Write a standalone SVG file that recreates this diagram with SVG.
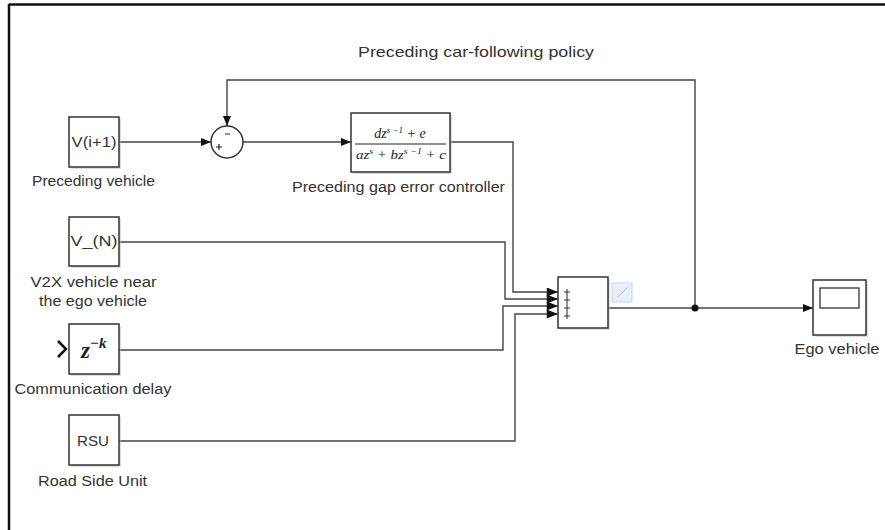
<svg xmlns="http://www.w3.org/2000/svg" width="885" height="530" viewBox="0 0 885 530">
<style>
.blk{fill:#fff;stroke:#333;stroke-width:1.5}
.shd{fill:#bbb;opacity:0.5}
.ln{fill:none;stroke:#444;stroke-width:1.4}
.lbl{font-family:"Liberation Sans",Arial,sans-serif;font-size:14px;fill:#333;text-anchor:middle}
.in{font-family:"Liberation Sans",Arial,sans-serif;font-size:14px;fill:#333;text-anchor:middle}
.mth{font-family:"Liberation Serif","Times New Roman",serif;font-style:italic;fill:#222}
</style>
<defs>
<marker id="ar" viewBox="0 0 10 8" refX="10" refY="4" markerWidth="10" markerHeight="8" markerUnits="userSpaceOnUse" orient="auto">
<path d="M0,0 L10,4 L0,8 Z" fill="#111"/>
</marker>
<marker id="arb" viewBox="0 0 10 8" refX="10" refY="4" markerWidth="12" markerHeight="9" markerUnits="userSpaceOnUse" orient="auto">
<path d="M0,0 L10,4 L0,8 Z" fill="#111"/>
</marker>
</defs>
<rect width="885" height="530" fill="#fff"/>
<g id="frame">
<line x1="9" y1="4.5" x2="885" y2="4.5" stroke="#111" stroke-width="2.5"/>
<line x1="9" y1="4" x2="9" y2="530" stroke="#111" stroke-width="2.5"/>
</g>
<g id="connectors">
<line class="ln" x1="119" y1="142" x2="211" y2="142" marker-end="url(#ar)"/>
<polyline class="ln" points="695,308 695,80 227,80 227,126" marker-end="url(#ar)"/>
<line class="ln" x1="243" y1="142" x2="351" y2="142" marker-end="url(#ar)"/>
<polyline class="ln" points="450,142 513,142 513,292 558,292" marker-end="url(#arb)"/>
<polyline class="ln" points="119,242 505,242 505,299 558,299" marker-end="url(#arb)"/>
<polyline class="ln" points="119,350 503,350 503,306 558,306" marker-end="url(#arb)"/>
<polyline class="ln" points="119,441 515,441 515,314 558,314" marker-end="url(#arb)"/>
<line class="ln" x1="608" y1="308" x2="813" y2="308" marker-end="url(#ar)"/>
<circle cx="695" cy="308" r="3.5" fill="#111"/>
<text class="lbl" x="476" y="57" textLength="236" lengthAdjust="spacingAndGlyphs">Preceding car-following policy</text>
</g>
<g id="v_i1">
<rect class="shd" x="71" y="119" width="50" height="50"/>
<rect class="blk" x="69" y="117" width="50" height="50"/>
<text class="in" x="94" y="147" textLength="45" lengthAdjust="spacingAndGlyphs">V(i+1)</text>
<text class="lbl" x="93.5" y="186" textLength="123" lengthAdjust="spacingAndGlyphs">Preceding vehicle</text>
</g>
<g id="sum">
<circle cx="227" cy="142" r="16" fill="#fff" stroke="#333" stroke-width="1.5"/>
<path d="M216,147 h6 M219,144 v6 M225,134 h5" stroke="#222" stroke-width="1.2"/>
</g>
<g id="tf">
<rect class="shd" x="353" y="115" width="99" height="59"/>
<rect class="blk" x="351" y="113" width="99" height="59"/>
<line x1="355" y1="144" x2="446" y2="144" stroke="#222" stroke-width="1"/>
<text class="mth" x="400" y="138" font-size="14" text-anchor="middle">dz<tspan font-size="9" dy="-5">s −1</tspan><tspan dy="5"> + e</tspan></text>
<text class="mth" x="401" y="159" font-size="13.5" text-anchor="middle" textLength="90" lengthAdjust="spacingAndGlyphs">az<tspan font-size="9" dy="-5">s</tspan><tspan dy="5"> + bz</tspan><tspan font-size="9" dy="-5">s −1</tspan><tspan dy="5"> + c</tspan></text>
<text class="lbl" x="398.5" y="192" textLength="213" lengthAdjust="spacingAndGlyphs">Preceding gap error controller</text>
</g>
<g id="v_n">
<rect class="shd" x="71" y="219" width="50" height="49"/>
<rect class="blk" x="69" y="217" width="50" height="49"/>
<text class="in" x="94" y="246" textLength="47" lengthAdjust="spacingAndGlyphs">V_(N)</text>
<text class="lbl" x="93.5" y="287" textLength="126" lengthAdjust="spacingAndGlyphs">V2X vehicle near</text>
<text class="lbl" x="93" y="306" textLength="108" lengthAdjust="spacingAndGlyphs">the ego vehicle</text>
</g>
<g id="delay">
<rect class="shd" x="71" y="326" width="50" height="50"/>
<rect class="blk" x="69" y="324" width="50" height="50"/>
<polyline points="58,341 66,349 58,357" fill="none" stroke="#111" stroke-width="2.5"/>
<text class="mth" x="81" y="358" font-size="23" font-weight="bold">z<tspan font-size="15" dy="-10">−k</tspan></text>
<text class="lbl" x="93" y="394" textLength="157" lengthAdjust="spacingAndGlyphs">Communication delay</text>
</g>
<g id="rsu">
<rect class="shd" x="71" y="417" width="50" height="50"/>
<rect class="blk" x="69" y="415" width="50" height="50"/>
<text class="in" x="93" y="446" font-size="15" textLength="32" lengthAdjust="spacingAndGlyphs">RSU</text>
<text class="lbl" x="92.5" y="486" textLength="109" lengthAdjust="spacingAndGlyphs">Road Side Unit</text>
</g>
<g id="mux">
<rect class="shd" x="560" y="279" width="50" height="51"/>
<rect class="blk" x="558" y="277" width="50" height="51"/>
<path d="M567,289 V319 M564,292 h6 M564,300 h6 M564,308 h6 M564,316 h6" stroke="#333" stroke-width="1.1"/>
<rect x="612" y="283" width="20" height="19" fill="#e8f1fb" stroke="#c0d8ee" stroke-width="1"/>
<polyline points="617,297 621,294 628,287" fill="none" stroke="#a9c8e6" stroke-width="1"/>
</g>
<g id="scope">
<rect class="shd" x="815" y="282" width="53" height="55"/>
<rect class="blk" x="813" y="280" width="53" height="55"/>
<rect x="820" y="288" width="39" height="20" fill="#fff" stroke="#333" stroke-width="1.3"/>
<text class="lbl" x="837" y="354" textLength="85" lengthAdjust="spacingAndGlyphs">Ego vehicle</text>
</g>
</svg>
